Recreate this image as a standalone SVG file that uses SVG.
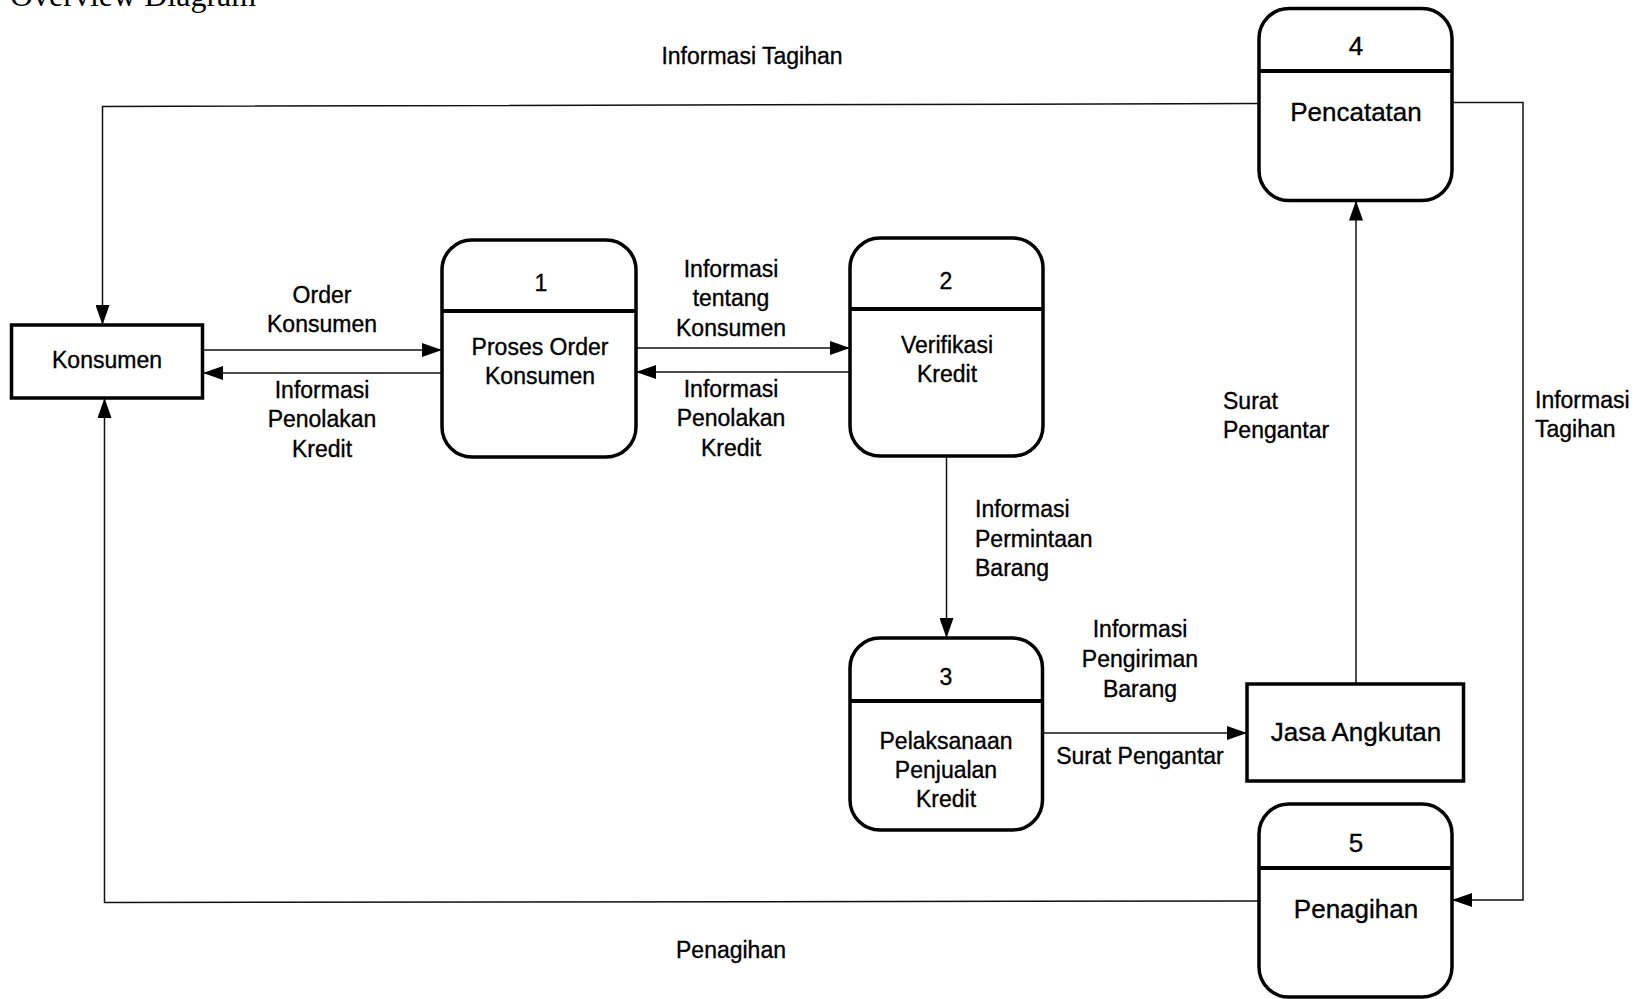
<svg xmlns="http://www.w3.org/2000/svg" width="1638" height="999" viewBox="0 0 1638 999">
  <style>
    .bg { fill: #ffffff; }
    .proc { fill: #ffffff; stroke: #000; stroke-width: 3.5; }
    .div { stroke: #000; stroke-width: 4; }
    .ent { fill: #ffffff; stroke: #000; stroke-width: 3.5; }
    .flow { fill: none; stroke: #111; stroke-width: 1.5; }
    .t { font-family: "Liberation Sans", Arial, sans-serif; font-size: 23px; fill: #000; stroke: #000; stroke-width: 0.35; text-anchor: middle; }
    .tl { text-anchor: start; }
    .big { font-size: 26px; }
    .title { font-family: "Liberation Serif", "Times New Roman", serif; font-size: 32px; fill: #000; }
  </style>
  <defs>
    <marker id="arrow" markerUnits="userSpaceOnUse" markerWidth="20" markerHeight="14" refX="20" refY="7" orient="auto">
      <path d="M0,0 L20,7 L0,14 z" fill="#000"/>
    </marker>
  </defs>

  <rect class="bg" x="0" y="0" width="1638" height="999"/>

  <text class="title" x="10" y="6">Overview Diagram</text>

  <!-- data flows -->
  <g id="connectors">
    <!-- 4 -> Konsumen : Informasi Tagihan -->
    <polyline class="flow" points="1259,103.5 102.5,106.5 102.5,325" marker-end="url(#arrow)"/>
    <text class="t" x="752" y="64">Informasi Tagihan</text>

    <!-- 4 -> 5 : Informasi Tagihan -->
    <polyline class="flow" points="1452,102.5 1523,102.5 1523,900 1452,900" marker-end="url(#arrow)"/>
    <text class="t tl" x="1535" y="408">Informasi</text>
    <text class="t tl" x="1535" y="437">Tagihan</text>

    <!-- Konsumen -> 1 -->
    <line class="flow" x1="203" y1="350" x2="442" y2="350" marker-end="url(#arrow)"/>
    <text class="t" x="322" y="303">Order</text>
    <text class="t" x="322" y="332">Konsumen</text>

    <!-- 1 -> Konsumen -->
    <line class="flow" x1="442" y1="373" x2="203" y2="373" marker-end="url(#arrow)"/>
    <text class="t" x="322" y="398">Informasi</text>
    <text class="t" x="322" y="427">Penolakan</text>
    <text class="t" x="322" y="457">Kredit</text>

    <!-- 1 -> 2 -->
    <line class="flow" x1="636" y1="348" x2="850" y2="348" marker-end="url(#arrow)"/>
    <text class="t" x="731" y="277">Informasi</text>
    <text class="t" x="731" y="306">tentang</text>
    <text class="t" x="731" y="336">Konsumen</text>

    <!-- 2 -> 1 -->
    <line class="flow" x1="850" y1="372" x2="636" y2="372" marker-end="url(#arrow)"/>
    <text class="t" x="731" y="397">Informasi</text>
    <text class="t" x="731" y="426">Penolakan</text>
    <text class="t" x="731" y="456">Kredit</text>

    <!-- 2 -> 3 -->
    <line class="flow" x1="946.5" y1="456.5" x2="946.5" y2="638" marker-end="url(#arrow)"/>
    <text class="t tl" x="975" y="517">Informasi</text>
    <text class="t tl" x="975" y="547">Permintaan</text>
    <text class="t tl" x="975" y="576">Barang</text>

    <!-- 3 -> Jasa Angkutan -->
    <line class="flow" x1="1042.5" y1="733" x2="1247" y2="733" marker-end="url(#arrow)"/>
    <text class="t" x="1140" y="637">Informasi</text>
    <text class="t" x="1140" y="667">Pengiriman</text>
    <text class="t" x="1140" y="697">Barang</text>
    <text class="t" x="1140" y="764">Surat Pengantar</text>

    <!-- Jasa Angkutan -> 4 -->
    <line class="flow" x1="1356" y1="684" x2="1356" y2="200.5" marker-end="url(#arrow)"/>
    <text class="t tl" x="1223" y="409">Surat</text>
    <text class="t tl" x="1223" y="438">Pengantar</text>

    <!-- 5 -> Konsumen : Penagihan -->
    <polyline class="flow" points="1259,901 104.5,902.5 104.5,398" marker-end="url(#arrow)"/>
    <text class="t" x="731" y="958">Penagihan</text>
  </g>

  <g id="konsumen">
    <rect class="ent" x="11.5" y="325" width="191" height="73"/>
    <text class="t" x="107" y="368">Konsumen</text>
  </g>

  <g id="proses-1">
    <rect class="proc" x="442" y="240" width="194" height="217" rx="30" ry="30"/>
    <line class="div" x1="442" y1="311" x2="636" y2="311"/>
    <text class="t" x="541" y="291">1</text>
    <text class="t" x="540" y="355">Proses Order</text>
    <text class="t" x="540" y="384">Konsumen</text>
  </g>

  <g id="proses-2">
    <rect class="proc" x="850" y="238" width="193" height="218" rx="30" ry="30"/>
    <line class="div" x1="850" y1="309" x2="1043" y2="309"/>
    <text class="t" x="946" y="289">2</text>
    <text class="t" x="947" y="353">Verifikasi</text>
    <text class="t" x="947" y="382">Kredit</text>
  </g>

  <g id="proses-3">
    <rect class="proc" x="850" y="638" width="192.5" height="192" rx="30" ry="30"/>
    <line class="div" x1="850" y1="701" x2="1042.5" y2="701"/>
    <text class="t" x="946" y="685">3</text>
    <text class="t" x="946" y="749">Pelaksanaan</text>
    <text class="t" x="946" y="778">Penjualan</text>
    <text class="t" x="946" y="807">Kredit</text>
  </g>

  <g id="proses-4">
    <rect class="proc" x="1259" y="8.5" width="193" height="192" rx="30" ry="30"/>
    <line class="div" x1="1259" y1="71" x2="1452" y2="71"/>
    <text class="t big" x="1356" y="55">4</text>
    <text class="t big" x="1356" y="121">Pencatatan</text>
  </g>

  <g id="proses-5">
    <rect class="proc" x="1259" y="804" width="193" height="193" rx="30" ry="30"/>
    <line class="div" x1="1259" y1="868" x2="1452" y2="868"/>
    <text class="t big" x="1356" y="852">5</text>
    <text class="t big" x="1356" y="918">Penagihan</text>
  </g>

  <g id="jasa-angkutan">
    <rect class="ent" x="1247" y="684" width="216.5" height="97"/>
    <text class="t big" x="1356" y="741">Jasa Angkutan</text>
  </g>
</svg>
